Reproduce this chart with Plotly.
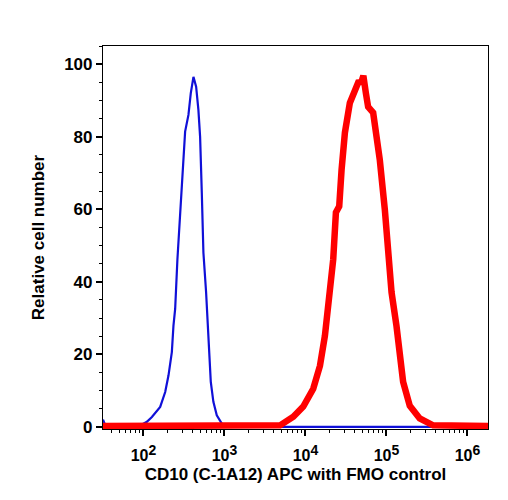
import numpy as np
import plotly.graph_objects as go

# FMO control (blue): log10 intensity positions and relative counts
blue_log = [1.50, 1.53, 1.90, 1.959, 2.042, 2.104, 2.206, 2.268, 2.309, 2.350, 2.370, 2.391,
            2.419, 2.444, 2.473, 2.493, 2.514, 2.555, 2.584, 2.617, 2.650, 2.678, 2.699,
            2.720, 2.740, 2.773, 2.802, 2.831, 2.863, 2.905, 2.967, 3.007, 4.0, 5.0, 6.254]
blue_y = [2.0, 0.3, 0.0, 0.4, 1.4, 2.7, 5.5, 9.6, 14.2, 20.6, 27.9, 32.5,
          46.2, 55.3, 64.5, 73.6, 81.4, 86.0, 92.0, 96.5, 93.8, 87.4, 80.0,
          64.5, 48.0, 37.1, 23.3, 12.4, 6.9, 3.2, 0.9, 0.0, 0.0, 0.0, 0.0]

# CD10 APC stained (red)
red_log = [1.50, 2.5, 3.5, 3.686, 3.850, 3.973, 4.096, 4.179, 4.240, 4.302, 4.343, 4.376,
           4.417, 4.446, 4.487, 4.548, 4.631, 4.660, 4.685, 4.715, 4.746, 4.774, 4.836,
           4.878, 4.918, 4.980, 5.021, 5.063, 5.124, 5.165, 5.206, 5.288, 5.411, 5.576,
           5.8, 6.254]
red_y = [0.2, 0.2, 0.2, 0.4, 2.8, 5.6, 10.5, 16.8, 25.1, 37.2, 46.2, 59.1,
         60.8, 70.9, 81.1, 89.3, 93.7, 95.4, 94.6, 96.8, 92.0, 88.2, 86.6,
         80.0, 73.6, 59.9, 46.2, 37.1, 27.8, 18.8, 12.4, 5.8, 2.3, 0.4,
         0.2, 0.2]

x_tick_vals = [1e2, 1e3, 1e4, 1e5, 1e6]
x_exponents = ["2", "3", "4", "5", "6"]
x_tick_text = [f"<b>10<sup><span style='font-size:14px'>{e}</span></sup></b>" for e in x_exponents]
y_tick_vals = [0, 20, 40, 60, 80, 100]

x_minor = [m * 10 ** d for d in range(1, 7) for m in range(2, 10)]

fig = go.Figure()
fig.add_trace(go.Scatter(x=10 ** np.array(blue_log), y=blue_y, mode="lines",
                         line=dict(color="#1010d8", width=2.2), showlegend=False))
fig.add_trace(go.Scatter(x=10 ** np.array(red_log), y=red_y, mode="lines",
                         line=dict(color="#ff0000", width=6.5), showlegend=False))

font_family = "Liberation Sans, Arial, sans-serif"
fig.update_layout(
    width=508, height=500,
    margin=dict(l=103, r=20, t=46, b=71),
    plot_bgcolor="white", paper_bgcolor="white",
    font=dict(family=font_family, color="black"),
)
fig.update_xaxes(
    type="log", range=[1.5, 6.254],
    tickvals=x_tick_vals, ticktext=x_tick_text,
    tickfont=dict(size=16, family=font_family),
    ticks="outside", ticklen=6, tickwidth=1.5, tickcolor="black",
    ticklabelstandoff=6,
    minor=dict(tickvals=x_minor, ticks="outside", ticklen=3, tickwidth=1, tickcolor="black"),
    showline=True, linecolor="black", linewidth=1.2, mirror=True,
    showgrid=False, zeroline=False,
    title=dict(text="<b>CD10 (C-1A12) APC with FMO control</b>", font=dict(size=17), standoff=4),
)
fig.update_yaxes(
    range=[-0.6, 105],
    tickvals=y_tick_vals, ticktext=[f"<b>{v}</b>" for v in y_tick_vals],
    tickfont=dict(size=17, family=font_family),
    ticks="outside", ticklen=6, tickwidth=1.5, tickcolor="black",
    minor=dict(dtick=5, tick0=0, ticks="outside", ticklen=3, tickwidth=1, tickcolor="black"),
    showline=True, linecolor="black", linewidth=1.2, mirror=True,
    showgrid=False, zeroline=False,
    title=dict(text="<b>Relative cell number</b>", font=dict(size=17), standoff=15),
)

fig.write_html("out.html")
